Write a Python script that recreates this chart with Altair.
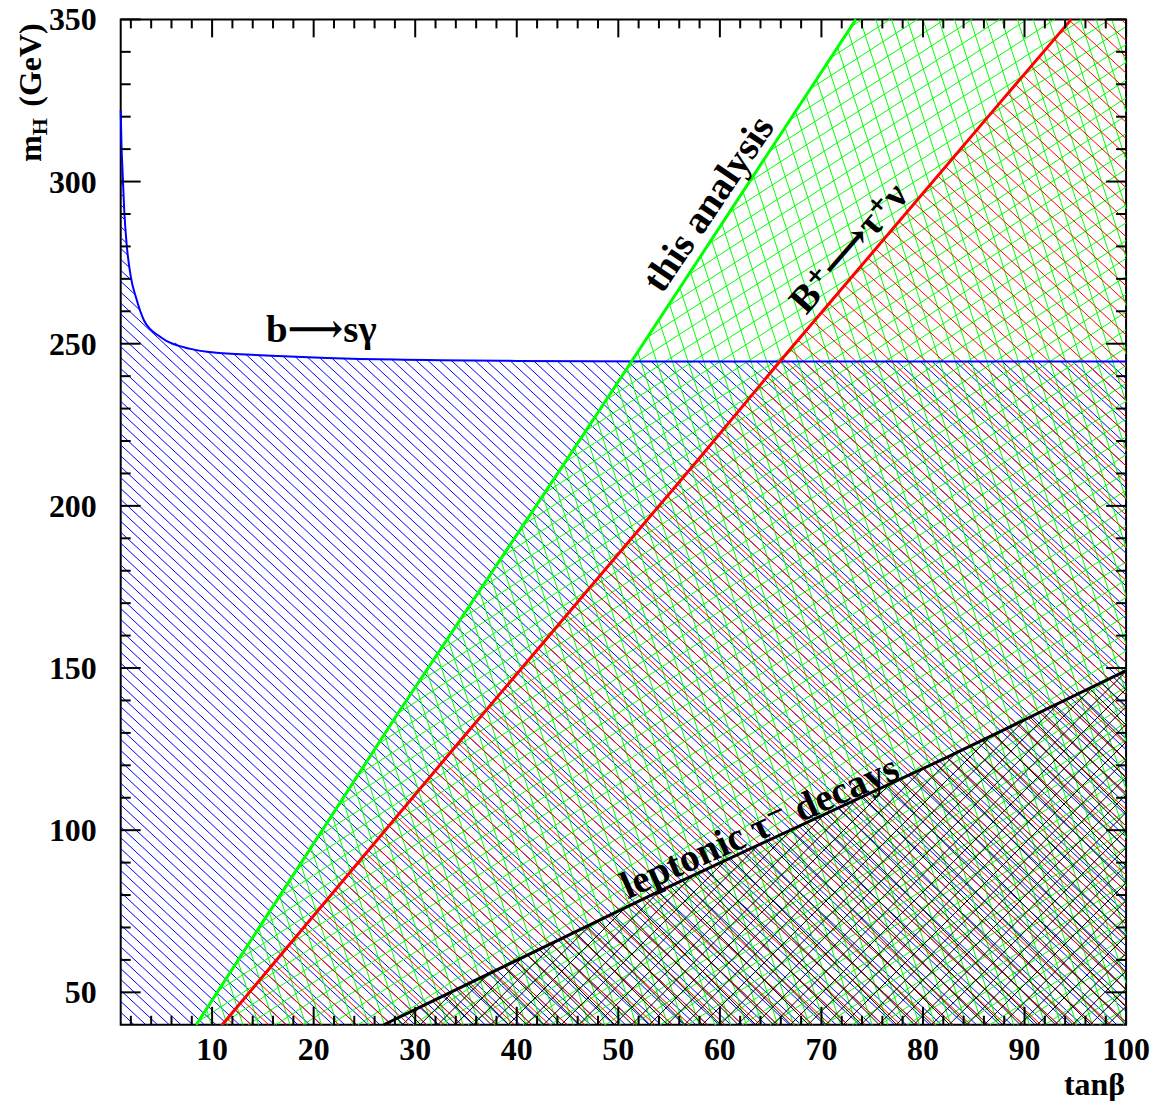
import numpy as np
import pandas as pd
import altair as alt

# ---------------- values ----------------
# b -> s gamma boundary (blue)
bsg_tanb = [1.0, 1.08, 1.18, 1.35, 1.57, 2.01, 2.5, 3.31, 4.95, 7.89, 10.4, 15.3, 28.0, 40.0, 60.0, 80.0, 100.0]
bsg_mh = [322.0, 311.0, 303.3, 291.0, 281.2, 270.4, 264.3, 257.1, 252.0, 248.4, 247.2, 246.4, 245.1, 244.7, 244.5, 244.5, 244.5]
# this analysis (green)
ana_tanb = [8.44, 28.4, 45.6, 51.3, 73.4]
ana_mh = [40.0, 136.5, 217.4, 244.5, 350.0]
# B+ -> tau+ nu (red)
btn_tanb = [11.0, 33.8, 57.9, 65.9, 87.8, 94.6]
btn_mh = [40.0, 125.2, 214.4, 244.5, 325.1, 350.0]
# leptonic tau decays (black)
lep_tanb = [26.9, 53.9, 82.4, 100.0]
lep_mh = [40.0, 81.0, 122.5, 149.2]

# axis ticks and tick labels
x_major = [10, 20, 30, 40, 50, 60, 70, 80, 90, 100]
x_minor = [v for v in range(2, 100, 2) if v % 10]
y_major = [50, 100, 150, 200, 250, 300, 350]
y_minor = [v for v in range(50, 350, 10) if v % 50]

# curve labels
lab_text = ["b\u27f6s\u03b3", "this analysis", "B\u207a\u27f6\u03c4\u207a\u03bd", "leptonic \u03c4\u207b decays"]
lab_tanb = [15.3, 59.9, 73.6, 64.4]
lab_mh = [250.4, 291.0, 277.0, 97.5]
lab_angle = [0, 304, 311, 336]
lab_align = ["left", "center", "center", "center"]

# ---------------- layout / style ----------------
W, H = 1008, 1008
XD = [1, 100]
YD = [40, 350]
FONT = "Liberation Serif, DejaVu Serif, DejaVu Sans"
BLUE, GREEN, RED, BLACK = "#0000ff", "#00ff00", "#ff0000", "#000000"


def to_px(x, y):
    return ((x - XD[0]) / (XD[1] - XD[0]) * W, (YD[1] - y) / (YD[1] - YD[0]) * H)


def to_data(px, py):
    return (XD[0] + px / W * (XD[1] - XD[0]), YD[1] - py / H * (YD[1] - YD[0]))


def hatch(xs, ys, angle, spacing, color):
    """hatch lines clipped to the polygon given by xs, ys (data units)"""
    P = np.array([to_px(x, y) for x, y in zip(xs, ys)])
    a = np.radians(angle)
    d = np.array([np.cos(a), -np.sin(a)])
    n = np.array([-d[1], d[0]])
    proj = P @ n
    rows = []
    k = np.ceil(proj.min() / spacing)
    while k * spacing <= proj.max():
        c = k * spacing
        ts = []
        m = len(P)
        for i in range(m):
            p, q = P[i], P[(i + 1) % m]
            fp, fq = p @ n - c, q @ n - c
            if (fp > 0) != (fq > 0):
                s = fp / (fp - fq)
                ts.append((p + s * (q - p)) @ d)
        ts.sort()
        for j in range(0, len(ts) - 1, 2):
            x0, y0 = to_data(*(n * c + d * ts[j]))
            x1, y1 = to_data(*(n * c + d * ts[j + 1]))
            rows.append(dict(x=x0, y=y0, x2=x1, y2=y1, c=color))
        k += 1
    return rows


blue_poly = (bsg_tanb + [100, 1], bsg_mh + [40, 40])
green_poly = (ana_tanb + [100, 100], ana_mh + [350, 40])
red_poly = (btn_tanb + [100, 100], btn_mh + [350, 40])
black_poly = (lep_tanb + [100], lep_mh + [40])

rows = []
rows += hatch(*blue_poly, -43, 8.0, BLUE)
rows += hatch(*green_poly, 33, 15.0, GREEN)
rows += hatch(*green_poly, -72, 15.0, GREEN)
rows += hatch(*red_poly, -43, 12.0, RED)
rows += hatch(*black_poly, 45, 12.5, BLACK)
rows += hatch(*black_poly, -45, 12.5, BLACK)
hdf = pd.DataFrame(rows)

xs = alt.Scale(domain=XD, nice=False, zero=False)
ys = alt.Scale(domain=YD, nice=False, zero=False)

hatch_layer = alt.Chart(hdf).mark_rule(strokeWidth=1).encode(
    x=alt.X("x:Q", scale=xs, axis=None),
    y=alt.Y("y:Q", scale=ys, axis=None),
    x2="x2:Q", y2="y2:Q",
    color=alt.Color("c:N", scale=None),
)


def curve(xv, yv, color, width, interp="linear"):
    df = pd.DataFrame({"x": xv, "y": yv})
    return alt.Chart(df).mark_line(color=color, strokeWidth=width, interpolate=interp).encode(
        x=alt.X("x:Q", scale=xs, axis=None), y=alt.Y("y:Q", scale=ys, axis=None))


curves = [
    curve(bsg_tanb, bsg_mh, BLUE, 2, "monotone"),
    curve(ana_tanb, ana_mh, GREEN, 3),
    curve(btn_tanb, btn_mh, RED, 3),
    curve(lep_tanb, lep_mh, BLACK, 3),
]


def xticks(vals, y0, y1):
    return alt.Chart(pd.DataFrame({"v": vals})).mark_rule(color="black", strokeWidth=2).encode(
        x=alt.X("v:Q", scale=xs, axis=None), y=alt.value(y0), y2=alt.value(y1))


def yticks(vals, x0, x1):
    return alt.Chart(pd.DataFrame({"v": vals})).mark_rule(color="black", strokeWidth=2).encode(
        y=alt.Y("v:Q", scale=ys, axis=None), x=alt.value(x0), x2=alt.value(x1))


ticks = [
    xticks(x_major, H, H - 18), xticks(x_minor, H, H - 9),
    xticks(x_major, 0, 18), xticks(x_minor, 0, 9),
    yticks(y_major, 0, 20), yticks(y_minor, 0, 10),
    yticks(y_major, W, W - 20), yticks(y_minor, W, W - 10),
]

# tick labels
xlab = alt.Chart(pd.DataFrame({"v": x_major})).mark_text(
    font="Liberation Serif", fontSize=32, fontWeight="bold", color="black",
    align="center", baseline="alphabetic").encode(
    x=alt.X("v:Q", scale=xs, axis=None), y=alt.value(H + 35), text="v:N")
ylab = alt.Chart(pd.DataFrame({"v": y_major})).mark_text(
    font="Liberation Serif", fontSize=32, fontWeight="bold", color="black",
    align="right", baseline="alphabetic", dy=11).encode(
    y=alt.Y("v:Q", scale=ys, axis=None), x=alt.value(-24), text="v:N")

labels = []
for t, lx, ly, an, al in zip(lab_text, lab_tanb, lab_mh, lab_angle, lab_align):
    df = pd.DataFrame({"t": [t], "x": [lx], "y": [ly]})
    labels.append(alt.Chart(df).mark_text(
        font=FONT, fontSize=39, fontWeight="bold", color="black",
        angle=an, align=al, baseline="alphabetic").encode(
        x=alt.X("x:Q", scale=xs, axis=None), y=alt.Y("y:Q", scale=ys, axis=None), text="t:N"))


def ptext(t, px, py, size, angle=0, align="left"):
    return alt.Chart(pd.DataFrame({"t": [t]})).mark_text(
        font="Liberation Serif", fontSize=size, fontWeight="bold", color="black",
        angle=angle, align=align, baseline="alphabetic").encode(
        x=alt.value(px), y=alt.value(py), text="t:N")


titles = [
    ptext("tan\u03b2", W - 1, H + 70, 32, 0, "right"),
    ptext("m", -80, 116, 32, 270, "right"),
    ptext("H", -74, 99, 22, 270, "right"),
    ptext("(GeV)", -80, 4, 32, 270, "right"),
]

chart = alt.layer(hatch_layer, *curves, *ticks, xlab, ylab, *labels, *titles).properties(
    width=W, height=H,
    autosize=alt.AutoSizeParams(type="none"),
    padding={"left": 113, "top": 10, "right": 30, "bottom": 75},
).configure_view(stroke="black", strokeWidth=2)

chart.save("out.html", embed_options={"renderer": "svg", "actions": False})
